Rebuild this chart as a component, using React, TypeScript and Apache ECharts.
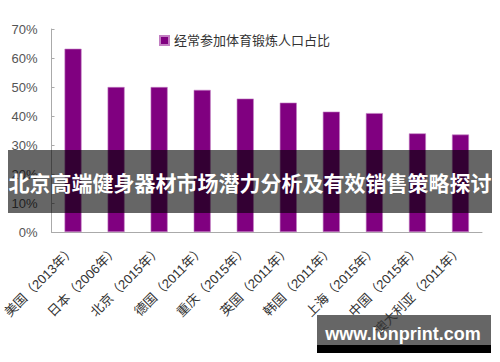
import React, { useEffect, useRef } from "react";
import * as echarts from "echarts";

const categories = [
  "美国（2013年）",
  "日本（2006年）",
  "北京（2015年）",
  "德国（2011年）",
  "重庆（2015年）",
  "英国（2011年）",
  "韩国（2011年）",
  "上海（2015年）",
  "中国（2015年）",
  "澳大利亚（2011年）",
];
const values = [63.2, 50, 50, 49, 46, 44.6, 41.5, 41, 34, 33.6];
const seriesName = "经常参加体育锻炼人口占比";
const overlayTitle = "北京高端健身器材市场潜力分析及有效销售策略探讨";
const watermark = "www.lonprint.com";

const FONT = "'Liberation Sans', Arial, 'Noto Sans CJK SC', sans-serif";

export default function App() {
  const ref = useRef<HTMLDivElement>(null);
  useEffect(() => {
    document.body.style.margin = "0";
    const chart = echarts.init(ref.current!, null, { renderer: "svg" });
    chart.setOption({
      animation: false,
      backgroundColor: "#ffffff",
      textStyle: { fontFamily: FONT },
      legend: {
        left: 154,
        top: 29,
        itemWidth: 9,
        itemHeight: 9,
        itemGap: 4,
        icon: "rect",
        textStyle: { fontSize: 13, color: "#333", fontFamily: FONT },
        data: [seriesName],
      },
      grid: { left: 50, right: 18, top: 29, bottom: 130 },
      xAxis: {
        type: "category",
        data: categories,
        axisLine: { lineStyle: { color: "#aaa", width: 1 } },
        axisTick: { inside: true, length: 4, lineStyle: { color: "#aaa" }, alignWithLabel: false },
        axisLabel: {
          rotate: 45,
          fontSize: 13,
          color: "#333",
          margin: 16,
          interval: 0,
          fontFamily: FONT,
        },
      },
      yAxis: {
        type: "value",
        min: 0,
        max: 70,
        interval: 10,
        splitLine: { show: false },
        axisLine: { show: true, lineStyle: { color: "#aaa", width: 1 } },
        axisTick: { show: true, inside: true, length: 3, lineStyle: { color: "#aaa" } },
        axisLabel: { formatter: "{value}%", fontSize: 13, color: "#555", margin: 14, fontFamily: FONT },
      },
      series: [
        {
          name: seriesName,
          type: "bar",
          data: values,
          barWidth: 17,
          itemStyle: { color: "#800080", borderColor: "#c27fc2", borderWidth: 0.6 },
        },
      ],
      graphic: [
        {
          type: "rect",
          shape: { x: 8, y: 150, width: 484, height: 63 },
          style: { fill: "rgba(0,0,0,0.6)" },
          z: 100,
        },
        {
          type: "text",
          x: 250,
          y: 182,
          z: 101,
          style: {
            text: overlayTitle,
            fill: "#ffffff",
            fontSize: 21,
            fontWeight: "bold",
            fontFamily: "'Noto Sans CJK SC'",
            textAlign: "center",
            textVerticalAlign: "middle",
          },
        },
        {
          type: "rect",
          shape: { x: 317, y: 315, width: 174, height: 30 },
          style: { fill: "rgba(0,0,0,0.6)" },
          z: -1,
        },
        {
          type: "rect",
          shape: { x: 317, y: 345, width: 174, height: 8 },
          style: { fill: "#000000" },
          z: -1,
        },
        {
          type: "text",
          x: 403,
          y: 334,
          z: 0,
          style: {
            text: watermark,
            fill: "#ffffff",
            fontSize: 18,
            fontWeight: "bold",
            fontFamily: "'Liberation Sans', Arial, sans-serif",
            textAlign: "center",
            textVerticalAlign: "middle",
          },
        },
      ],
    });
    return () => chart.dispose();
  }, []);
  return (
    <div
      ref={ref}
      style={{ position: "absolute", left: 0, top: 0, width: 500, height: 362 }}
    />
  );
}
